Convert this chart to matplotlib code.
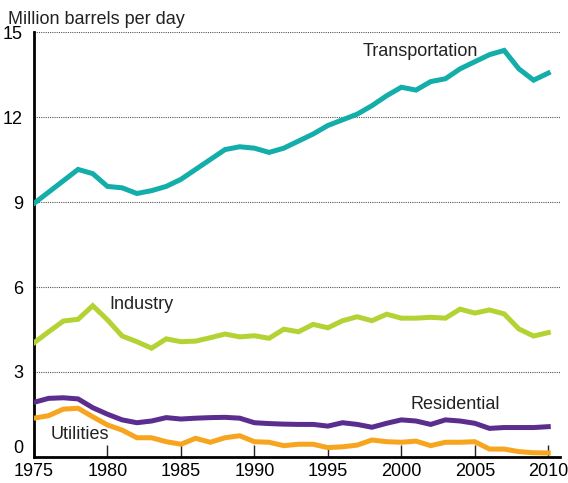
import matplotlib
matplotlib.use("Agg")
import matplotlib.pyplot as plt

plt.rcParams['font.family'] = ['Liberation Sans', 'DejaVu Sans']

# donnees (millions de barils par jour)
years = list(range(1975, 2011))

transportation = [8.95, 9.35, 9.75, 10.15, 10.0, 9.55, 9.5, 9.3, 9.4, 9.55,
                  9.8, 10.15, 10.5, 10.85, 10.95, 10.9, 10.75, 10.9, 11.15, 11.4,
                  11.7, 11.9, 12.1, 12.4, 12.75, 13.05, 12.95, 13.25, 13.35, 13.7,
                  13.95, 14.2, 14.35, 13.7, 13.3, 13.55]

industry = [4.03, 4.42, 4.8, 4.86, 5.34, 4.84, 4.27, 4.07, 3.84, 4.17,
            4.07, 4.09, 4.21, 4.34, 4.24, 4.28, 4.19, 4.51, 4.42, 4.68,
            4.56, 4.81, 4.95, 4.81, 5.04, 4.9, 4.9, 4.93, 4.9, 5.22,
            5.08, 5.19, 5.05, 4.52, 4.27, 4.39]

residential = [1.93, 2.07, 2.09, 2.05, 1.74, 1.51, 1.31, 1.21, 1.27, 1.39,
               1.34, 1.37, 1.39, 1.40, 1.37, 1.21, 1.18, 1.16, 1.15, 1.15,
               1.09, 1.21, 1.15, 1.05, 1.19, 1.31, 1.27, 1.15, 1.31, 1.27,
               1.19, 1.01, 1.04, 1.04, 1.04, 1.07]

utilities = [1.37, 1.46, 1.69, 1.72, 1.42, 1.13, 0.95, 0.68, 0.68, 0.54,
             0.45, 0.66, 0.52, 0.68, 0.75, 0.54, 0.52, 0.40, 0.45, 0.45,
             0.33, 0.36, 0.42, 0.60, 0.54, 0.52, 0.56, 0.40, 0.52, 0.52,
             0.54, 0.28, 0.28, 0.19, 0.15, 0.14]

series = [
    ("Transportation", transportation, "#13ADAA", (1997.4, 14.3)),
    ("Industry", industry, "#B3D335", (1980.1, 5.37)),
    ("Residential", residential, "#5A2D8F", (2000.6, 1.84)),
    ("Utilities", utilities, "#F7A51F", (1976.1, 0.81)),
]

fig = plt.figure(figsize=(5.68, 4.83), dpi=100)
ax = fig.add_axes([34 / 568, 1 - 457 / 483, (560 - 34) / 568, (457 - 32) / 483])

for y in [3, 6, 9, 12, 15]:
    ax.axhline(y, color='#555555', lw=0.8, ls=(0, (1, 1)), zorder=1)

for name, vals, col, pos in series:
    ax.plot(years, vals, color=col, lw=3.6, solid_joinstyle='miter', zorder=3)
    ax.text(pos[0], pos[1], name, fontsize=13, color='#222222',
            ha='left', va='center')

ax.set_xlim(1975, 2010.8)
ax.set_ylim(0, 15)
ax.set_xticks(range(1975, 2011, 5))
ax.set_yticks([0, 3, 6, 9, 12, 15])
ax.tick_params(axis='x', direction='in', length=9, width=1, color='#222222',
               labelsize=13, pad=4)
ax.tick_params(axis='y', length=0, labelsize=13, pad=8)

# le "0" est un peu remonte pour ne pas toucher "1975"
ax.get_yticklabels()[0].set_va('bottom')

for s in ['top', 'right']:
    ax.spines[s].set_visible(False)
ax.spines['left'].set_linewidth(2)
ax.spines['bottom'].set_linewidth(2)

fig.text(8 / 568, 1 - 19 / 483, "Million barrels per day", fontsize=13,
         color='#222222', ha='left', va='center')

fig.savefig("out.png", dpi=100)
